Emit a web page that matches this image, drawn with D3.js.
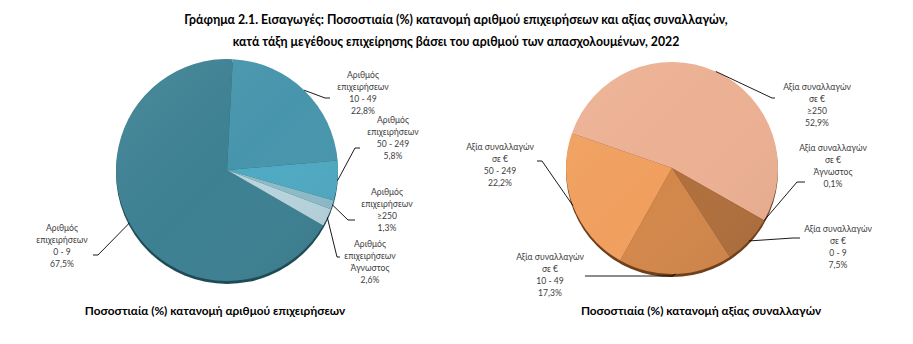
<!DOCTYPE html>
<html><head><meta charset="utf-8">
<script src="https://cdn.jsdelivr.net/npm/d3@7"></script>
<style>
html,body{margin:0;padding:0;background:#fff;}
svg{display:block;}
</style></head>
<body><svg id="c" width="913" height="344"></svg>
<script>
// ---- data ----
const categories = ["0 - 9", "10 - 49", "50 - 249", "≥250", "Άγνωστος"];
const firmsShare = [67.5, 22.8, 5.8, 1.3, 2.6];
const valueShare = [7.5, 17.3, 22.2, 52.9, 0.1];
const firmsLabelPrefix = ["Αριθμός", "επιχειρήσεων"];
const valueLabelPrefix = ["Αξία συναλλαγών", "σε €"];
const titleLines = ["Γράφημα 2.1. Εισαγωγές: Ποσοστιαία (%) κατανομή αριθμού επιχειρήσεων και αξίας συναλλαγών,",
                    "κατά τάξη μεγέθους επιχείρησης βάσει του αριθμού των απασχολουμένων, 2022"];
const captions = ["Ποσοστιαία (%) κατανομή αριθμού επιχειρήσεων", "Ποσοστιαία (%) κατανομή αξίας συναλλαγών"];

// ---- layout / style ----
const firmsColors = ["#3c8092", "#4795ac", "#4ea9c2", "#8cbcc9", "#b7d4dd"];
const valueColors = ["#b06f3c", "#d3874a", "#f09f5e", "#ecb093", "#c77a40"];
const firmsLayout = [ // elbow x,y ; end x ; label center x ; first line center y
  {ex:98, ey:255, tx:93, lx:62, ly:228},
  {ex:325, ey:98, tx:330, lx:363, ly:75},
  {ex:355, ey:148, tx:360, lx:393, ly:120},
  {ex:348, ey:220, tx:355, lx:387, ly:192},
  {ex:337, ey:257, tx:340, lx:370, ly:244}
];
const valueLayout = [
  {ex:793, ey:238, tx:800, lx:838, ly:229},
  {ex:672, ey:276, tx:585, lx:550, ly:257},
  {ex:542, ey:161, tx:537, lx:500, ly:147},
  {ex:772, ey:98, tx:775, lx:817, ly:87},
  {ex:797, ey:182, tx:805, lx:833, ly:148}
];

const svg = d3.select("#c");
const fmt = v => d3.format(".1f")(v).replace(".", ",") + "%";
const FONT = "Lato, 'Open Sans', sans-serif";

// title
svg.append("g").selectAll("text").data(titleLines).join("text")
  .attr("x", 456).attr("y", (d,i)=> 24 + i*22)
  .attr("text-anchor","middle").attr("font-family",FONT).attr("font-weight","bold")
  .attr("font-size", 12.3).attr("fill","#000").text(d=>d);

// captions
svg.append("g").selectAll("text").data(captions).join("text")
  .attr("x",(d,i)=> i===0 ? 215 : 701).attr("y",315)
  .attr("text-anchor","middle").attr("font-family",FONT).attr("font-weight","bold")
  .attr("font-size",11.8).attr("fill","#000").text(d=>d);

const defs = svg.append("defs");
const g1 = defs.append("linearGradient").attr("id","shade").attr("x1","0").attr("y1","0").attr("x2","1").attr("y2","1");
g1.append("stop").attr("offset","0").attr("stop-color","#fff").attr("stop-opacity",0.07);
g1.append("stop").attr("offset","0.5").attr("stop-color","#fff").attr("stop-opacity",0);
g1.append("stop").attr("offset","1").attr("stop-color","#000").attr("stop-opacity",0.08);

function drawPie(cx, cy, r, values, colors, rim, layout, prefix) {
  const pie = d3.pie().sort(null).value(d=>d)
    .startAngle(120*Math.PI/180).endAngle(480*Math.PI/180);
  const arcs = pie(values);
  const arc = d3.arc().innerRadius(0).outerRadius(r);
  const g = svg.append("g").attr("transform",`translate(${cx},${cy})`);
  g.append("circle").attr("cx",0).attr("cy",3).attr("r",r).attr("fill",rim);
  g.selectAll("path.s").data(arcs).join("path").attr("class","s")
    .attr("d",arc).attr("fill",(d,i)=>colors[i]);
  g.append("circle").attr("r",r).attr("fill","url(#shade)");
  // leader lines
  const lg = svg.append("g");
  arcs.forEach((a,i)=>{
    const m = (a.startAngle + a.endAngle)/2;
    const sx = cx + r*Math.sin(m), sy = cy - r*Math.cos(m);
    const L = layout[i];
    lg.append("path").attr("d",`M${sx},${sy}L${L.ex},${L.ey}L${L.tx},${L.ey}`)
      .attr("fill","none").attr("stroke","#000").attr("stroke-width",0.9);
    const lines = [prefix[0], prefix[1], categories[i], fmt(values[i])];
    lg.append("g").selectAll("text").data(lines).join("text")
      .attr("x",L.lx).attr("y",(d,j)=> L.ly + j*11.9 + 3)
      .attr("text-anchor","middle").attr("font-family",FONT)
      .attr("font-size",8.6).attr("fill","#404040").text(d=>d);
  });
}

drawPie(227, 170, 111, firmsShare, firmsColors, "#1f4b57", firmsLayout, firmsLabelPrefix);
drawPie(672, 168, 106, valueShare, valueColors, "#6e401e", valueLayout, valueLabelPrefix);
</script></body></html>
